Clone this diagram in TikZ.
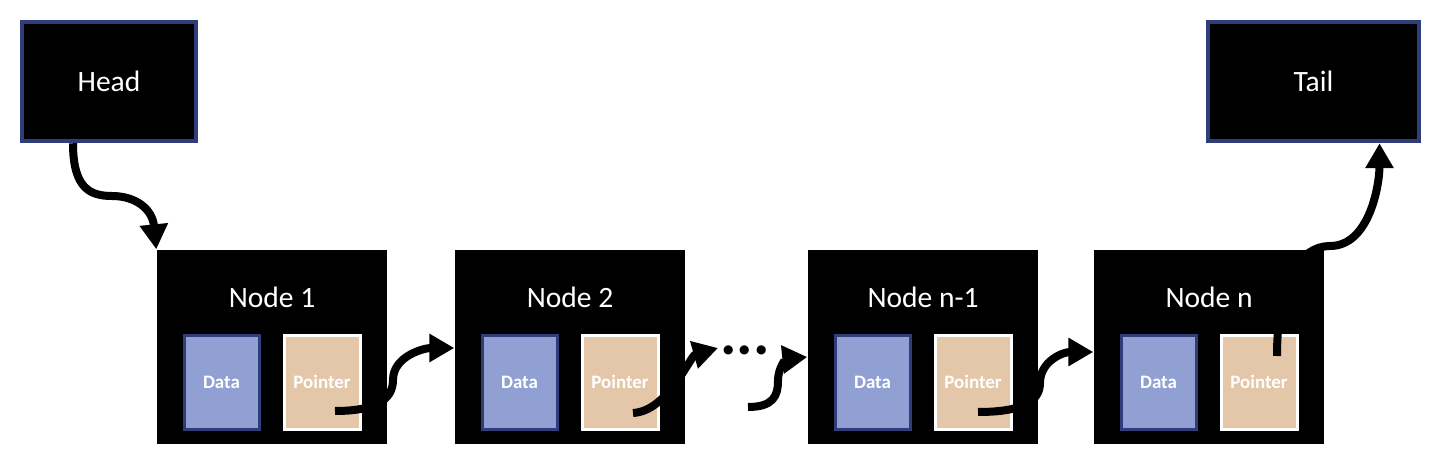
\documentclass[tikz,border=0pt]{standalone}
\usepackage{fontspec}
\setmainfont{Carlito}
\usetikzlibrary{arrows.meta,calc}
\definecolor{navy}{RGB}{47,62,122}
\definecolor{datafill}{RGB}{145,160,210}
\definecolor{ptrfill}{RGB}{228,199,169}
\tikzset{
  endbox/.style={draw=navy,line width=0.45mm,fill=black,minimum width=17.4mm,minimum height=11.9mm,inner sep=0,text=white,font=\fontsize{8.4pt}{9pt}\selectfont},
  listbox/.style={fill=black,minimum width=23mm,minimum height=19.4mm,inner sep=0},
  title/.style={text=white,anchor=base,inner sep=0,font=\fontsize{8.4pt}{9pt}\selectfont},
  databox/.style={draw=navy,line width=0.3mm,fill=datafill,minimum width=7.5mm,minimum height=9.4mm,inner sep=0},
  ptrbox/.style={draw=white,line width=0.3mm,fill=ptrfill,minimum width=7.6mm,minimum height=9.4mm,inner sep=0},
  small/.style={text=white,anchor=base,inner sep=0,font=\fontsize{5.4pt}{6pt}\selectfont\bfseries},
  link/.style={line width=0.8mm,-{Triangle[length=2.5mm,width=2.7mm]}},
}
\begin{document}
\begin{tikzpicture}[x=0.1mm,y=-0.1mm]
\useasboundingbox (0,0) rectangle (1430,476);
% Head / Tail
\node[endbox] (head) at (109,81.5) {Head};
\node[endbox,minimum width=21.1mm] (tail) at (1313.5,81.5) {Tail};
% list nodes
\foreach \n/\x/\t in {n1/157/Node 1,n2/455/Node 2,nm/808/Node n-1,nn/1094/Node n}{
  \node[listbox] (\n) at (\x+115,347) {};
  \node[title] (\n t) at (\x+115,307) {\t};
  \node[databox] (\n d) at (\x+64.5,382) {};
  \node[small] (\n dl) at (\x+64.5,389) {Data};
  \node[ptrbox] (\n p) at (\x+165,382) {};
  \node[small] (\n pl) at (\x+165,389) {Pointer};
}
\node[anchor=base,inner sep=0,font=\fontsize{17.5pt}{18pt}\selectfont\bfseries] (dots) at (745,354) {...};
% connector end points
\coordinate (hs) at ([shift={(-36,0)}]head.south);
\coordinate (s1) at ([shift={(13,29)}]n1p.center);
\coordinate (s2) at ([shift={(13,31)}]n2p.center);
\coordinate (d0) at ([shift={(3,53)}]dots.base);
\coordinate (d1) at ([shift={(-27,-6)}]dots.base);
\coordinate (sm) at ([shift={(5,30)}]nmp.center);
\coordinate (sn) at ([shift={(18,-26)}]nnp.center);
\coordinate (te) at ([shift={(66,0)}]tail.south);
% connectors
\draw[link] (hs) .. controls +(0,45) and +(-22,0) .. (112,196)
  .. controls +(24,0) and +(-4,-40) .. (n1.north west);
\draw[link] (s1) .. controls +(40,0) and +(0,20) .. (393,380)
  .. controls +(0,-24) and +(-30,0) .. ([shift={(0,1)}]n2.west);
\draw[link] (s2) .. controls +(35,-2) and +(-28,8) .. (d1);
\draw[link] (d0) .. controls +(25,0) and +(0,15) .. (778,381)
  .. controls +(0,-15) and +(-20,2) .. ([shift={(0,10)}]nm.west);
\draw[link] (sm) .. controls +(45,0) and +(0,18) .. (1040,383)
  .. controls +(0,-22) and +(-30,0) .. ([shift={(0,5)}]nn.west);
\draw[link] (sn) .. controls +(0,-75) and +(-30,0) .. (1330,246)
  .. controls +(40,0) and +(0,40) .. (te);
\end{tikzpicture}
\end{document}
